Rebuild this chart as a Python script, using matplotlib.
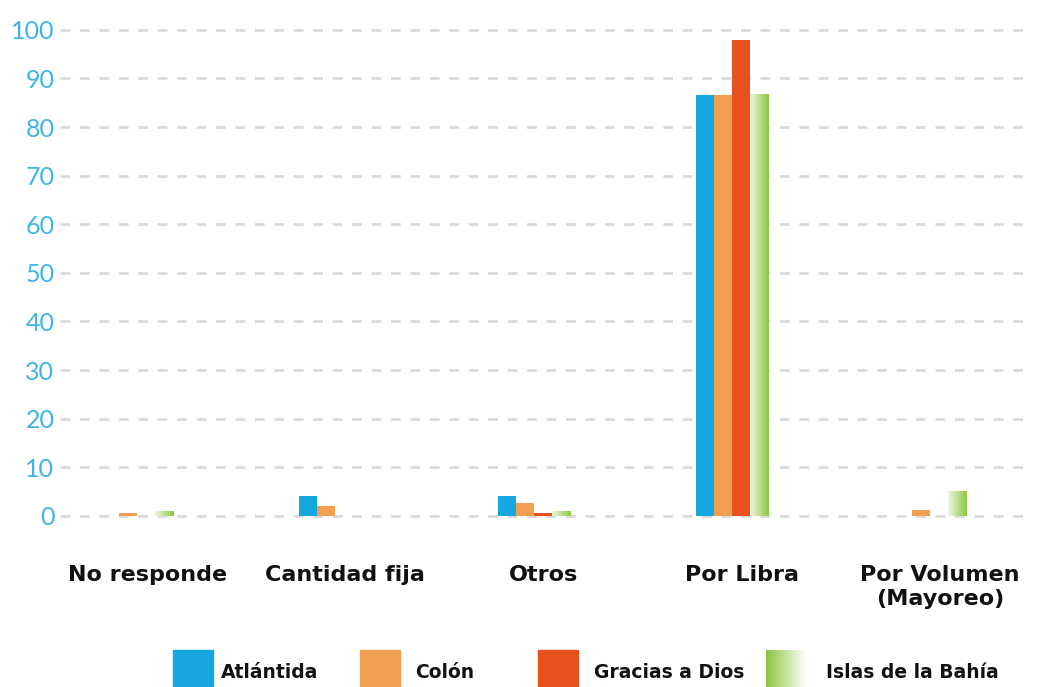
import matplotlib.pyplot as plt
import numpy as np
from matplotlib.patches import Rectangle

categories = ['No responde', 'Cantidad fija', 'Otros', 'Por Libra', 'Por Volumen\n(Mayoreo)']
series_names = ['Atlántida', 'Colón', 'Gracias a Dios', 'Islas de la Bahía']
atlantida = [0, 4, 4, 86.7, 0]
colon = [0.5, 2, 2.7, 86.7, 1.3]
gracias = [0, 0, 0.7, 98, 0]
islas = [1, 0, 1, 86.7, 5]
yticks = [0, 10, 20, 30, 40, 50, 60, 70, 80, 90, 100]

colors = ['#16a6e0', '#f0a050', '#e8501e', '#8cc63f']
series = [atlantida, colon, gracias, islas]

plt.rcParams['font.family'] = ['DejaVu Sans']

fig = plt.figure(figsize=(10.44, 6.87), dpi=100)
ax = fig.add_axes([60 / 1044, 1 - 530 / 687, 965 / 1044, 505 / 687])

x = np.arange(len(categories))
w = 0.091
offsets = (np.arange(4) - 1.5) * w

for i, (vals, col) in enumerate(zip(series, colors)):
    xs = x + offsets[i]
    if i == 3:
        # green bars fade to white on the left
        grad = np.linspace(0.15, 1, 64).reshape(1, -1)
        cmap = plt.matplotlib.colors.LinearSegmentedColormap.from_list('g', ['#ffffff', col])
        for xi, v in zip(xs, vals):
            if v <= 0:
                continue
            ax.imshow(grad, cmap=cmap, aspect='auto', extent=[xi - w / 2, xi + w / 2, 0, v],
                      zorder=3, interpolation='bicubic', vmin=0, vmax=1)
        ax.bar(xs, vals, w, color='none', zorder=3)
    else:
        ax.bar(xs, vals, w, color=col, zorder=3)

ax.set_xlim(-0.39, 4.48)
ax.set_ylim(-2.9, 101)
ax.set_yticks(yticks)
ax.set_yticklabels([str(t) for t in yticks], color='#3db5e6', fontsize=18,
                   family=['Lato', 'DejaVu Sans'])
ax.tick_params(axis='y', length=0, pad=4)
ax.set_xticks([])
for s in ax.spines.values():
    s.set_visible(False)
ax.yaxis.grid(True, color='#dadada', linestyle=(0, (3.5, 3.5)), linewidth=2)
ax.set_axisbelow(True)

label_x = x + 0.05
for lx, lab in zip(label_x, categories):
    ax.text(lx, -10, lab, ha='center', va='top', fontsize=16, fontweight='bold',
            color='#111111', linespacing=1.25)

# legend strip
lax = fig.add_axes([0, 0, 1, 47 / 687])
patch_x = [173, 360, 538, 766]
text_x = [221, 415, 594, 826]
for px, tx, name, col in zip(patch_x, text_x, series_names, colors):
    if col == '#8cc63f':
        grad = np.linspace(1, 0, 64).reshape(1, -1)
        cmap = plt.matplotlib.colors.LinearSegmentedColormap.from_list('g2', ['#ffffff', col])
        lax.imshow(grad, cmap=cmap, aspect='auto', extent=[px, px + 40, 690, 650],
                   interpolation='bicubic')
    else:
        lax.add_patch(Rectangle((px, 650), 40, 40, color=col))
    lax.text(tx, 673, name, ha='left', va='center', fontsize=13.5, fontweight='bold', color='#111111')
lax.set_xlim(0, 1044)
lax.set_ylim(687, 640)
lax.axis('off')

fig.savefig('out.png', dpi=100)
